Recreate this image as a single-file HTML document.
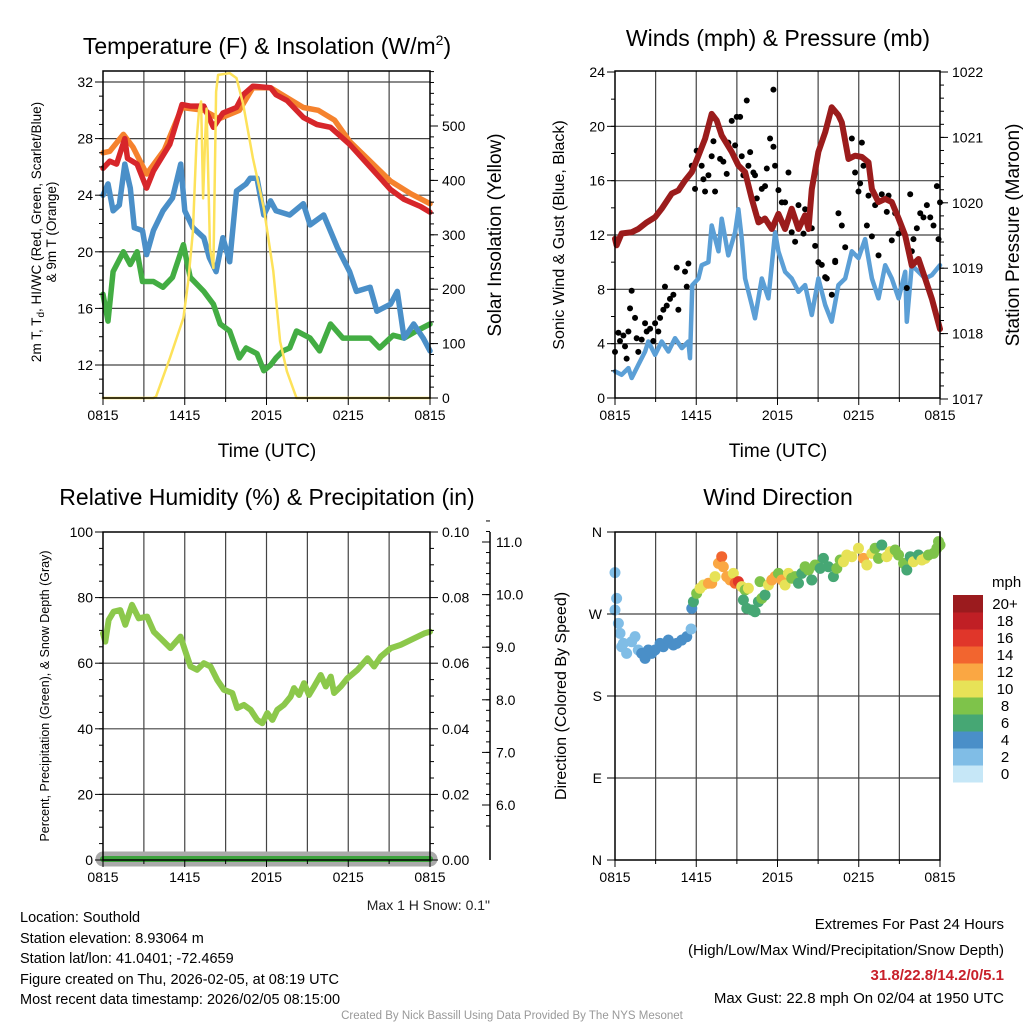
<!DOCTYPE html>
<html><head><meta charset="utf-8">
<style>
html,body{margin:0;padding:0;background:#fff;}
svg{display:block;font-family:"Liberation Sans",Arial,sans-serif;}
</style></head>
<body>
<svg id="c" width="1024" height="1024" viewBox="0 0 1024 1024" xmlns="http://www.w3.org/2000/svg">
<rect width="1024" height="1024" fill="#fff"/>
<text x="267" y="54" font-size="23" text-anchor="middle">Temperature (F) &amp; Insolation (W/m<tspan font-size="14" dy="-9">2</tspan><tspan dy="9">)</tspan></text>
<text x="778" y="46" font-size="23" text-anchor="middle">Winds (mph) &amp; Pressure (mb)</text>
<text x="267" y="505" font-size="23" text-anchor="middle">Relative Humidity (%) &amp; Precipitation (in)</text>
<text x="778" y="505" font-size="23" text-anchor="middle">Wind Direction</text>
<text x="267" y="457" font-size="19" text-anchor="middle">Time (UTC)</text>
<text x="778" y="457" font-size="19" text-anchor="middle">Time (UTC)</text>
<g transform="translate(41,232) rotate(-90)">
<text x="0" y="0" font-size="13.5" text-anchor="middle">2m T, T<tspan font-size="10" dy="3">d</tspan><tspan dy="-3">, HI/WC (Red, Green, Scarlet/Blue)</tspan></text>
<text x="0" y="15" font-size="13.5" text-anchor="middle">&amp; 9m T (Orange)</text>
</g>
<text transform="translate(501,235) rotate(-90)" font-size="19" text-anchor="middle">Solar Insolation (Yellow)</text>
<text transform="translate(564,235) rotate(-90)" font-size="16" text-anchor="middle">Sonic Wind &amp; Gust (Blue, Black)</text>
<text transform="translate(1019,235) rotate(-90)" font-size="19" text-anchor="middle">Station Pressure (Maroon)</text>
<text transform="translate(49,696) rotate(-90)" font-size="12.5" text-anchor="middle">Percent, Precipitation (Green), &amp; Snow Depth (Gray)</text>
<text transform="translate(566,696) rotate(-90)" font-size="16" text-anchor="middle">Direction (Colored By Speed)</text>
<text x="490" y="910" font-size="14" text-anchor="end" fill="#222">Max 1 H Snow: 0.1"</text>
<g font-size="14.5" fill="#000">
<text x="20" y="922">Location: Southold</text>
<text x="20" y="943">Station elevation: 8.93064 m</text>
<text x="20" y="963">Station lat/lon: 41.0401; -72.4659</text>
<text x="20" y="984">Figure created on Thu, 2026-02-05, at 08:19 UTC</text>
<text x="20" y="1004">Most recent data timestamp: 2026/02/05 08:15:00</text>
</g>
<g font-size="15" text-anchor="end">
<text x="1004" y="929">Extremes For Past 24 Hours</text>
<text x="1004" y="955">(High/Low/Max Wind/Precipitation/Snow Depth)</text>
<text x="1004" y="980" fill="#c8202a" font-weight="bold">31.8/22.8/14.2/0/5.1</text>
<text x="1004" y="1003">Max Gust: 22.8 mph On 02/04 at 1950 UTC</text>
</g>
<text x="512" y="1019" font-size="11.5" text-anchor="middle" fill="#999">Created By Nick Bassill Using Data Provided By The NYS Mesonet</text>
<g id="plots"></g>
</svg>
<script>
// ---------- Panel 1 data ----------
const tempHours=[0,0.5,1.0,1.6,1.8,2.5,3.2,3.7,4.9,5.8,6.4,7.4,8.1,8.8,9.8,10.3,11,12.3,12.7,13.5,14.7,15.7,16.7,18.1,19.6,21.1,22.1,23.3,24];
const temp2m=[25.9,26.4,26.2,28.0,26.6,26.2,24.5,25.7,27.6,30.4,30.3,30.3,28.8,29.8,30.2,31.1,31.7,31.6,31.1,30.7,29.5,29.0,28.8,27.6,26.0,24.4,23.7,23.2,22.8];
const temp9mHours=[0,0.5,1.5,2.2,3.2,4.5,5.8,7.4,8.5,10,11,12.3,13.5,14.7,15.8,17,18.1,19.6,21.1,22.6,24];
const temp9m=[27.0,27.1,28.3,27.4,25.5,27.2,30.2,30.0,29.4,30.0,31.6,31.6,30.9,30.2,30.0,29.3,27.8,26.4,25.0,24.1,23.4];
const dewHours=[0,0.37,0.74,1.2,1.6,2.0,2.3,2.9,3.2,3.7,4.4,5.1,5.7,6.0,6.6,7.4,7.8,8.3,8.8,9.3,9.8,10.5,10.8,11.3,11.8,12.3,12.7,13.7,14.7,15.2,16.2,17.2,18.1,18.6,19.6,20.1,21.1,21.6,22.1,22.8,23.5,24];
const dewpoint=[24.0,24.8,22.9,23.3,26.2,24.5,21.7,21.5,19.8,21.5,22.9,23.8,26.2,22.9,21.7,21.0,19.6,18.6,21.0,19.3,24.3,24.8,25.2,25.2,22.6,23.6,22.9,22.6,23.4,21.9,22.6,20.3,18.6,17.2,17.5,15.8,16.3,17.2,13.9,14.9,13.9,13.0];
const chillHours=[0,0.37,0.74,1.5,2.0,2.5,2.9,3.7,4.4,5.1,5.9,6.4,7.4,8.1,8.6,9.3,10.0,10.5,11.3,11.8,12.3,12.7,13.2,13.7,14.2,15.2,15.9,16.7,17.6,18.6,19.6,20.3,21.3,22.1,23.0,24];
const windChill=[17.0,15.1,18.6,20.0,19.1,20.0,17.9,17.9,17.5,18.2,20.5,18.2,17.2,16.3,14.9,14.4,12.5,13.2,12.8,11.6,12.0,12.5,13.0,13.2,14.4,13.9,13.0,14.9,13.9,13.9,13.9,13.2,14.1,13.9,14.4,14.9];
const solarHours=[0,3.7,3.9,4.9,5.9,6.25,6.6,6.86,7.05,7.2,7.35,7.5,7.6,7.85,8.1,8.3,8.45,9.3,9.8,10.3,11.0,11.8,12.5,13.0,13.5,14.2,24];
const solar=[0,0,3,73,147,214,306,471,530,545,367,480,532,275,239,563,594,597,588,539,441,349,233,104,49,0,0];
const tempTicks=[12,16,20,24,28,32];
const solarTicks=[0,100,200,300,400,500];
const timeLabels=["0815","1415","2015","0215","0815"];

// ---------- Panel 2 data ----------
const presHours=[0,0.12,0.49,1.23,1.72,2.34,2.96,3.45,4.19,4.68,5.17,5.67,6.16,6.65,7.14,7.51,7.88,8.62,9.11,9.61,10.1,10.6,11.08,11.58,12.07,12.56,13.05,13.55,14.04,14.29,14.53,15.02,15.52,16.0,16.5,16.75,17.24,17.73,18.23,18.72,18.97,19.46,19.95,20.44,20.94,21.43,21.92,22.41,22.91,23.4,24];
const pressure=[1019.45,1019.35,1019.53,1019.55,1019.6,1019.7,1019.78,1019.91,1020.14,1020.19,1020.34,1020.47,1020.72,1020.98,1021.36,1021.26,1021.03,1020.78,1020.57,1020.47,1020.06,1019.7,1019.76,1019.6,1019.83,1019.6,1019.91,1019.6,1019.81,1019.6,1020.21,1020.78,1021.08,1021.46,1021.34,1021.23,1020.67,1020.72,1020.7,1020.62,1020.21,1020.01,1020.06,1020.01,1019.76,1019.5,1019.04,1019.14,1018.84,1018.53,1018.07];
const windHours=[0,0.49,0.99,1.23,1.72,2.22,2.46,2.96,3.45,3.94,4.43,4.93,5.42,5.54,5.71,6.16,6.4,6.9,7.14,7.64,7.88,8.37,8.87,9.11,9.36,9.61,10.1,10.34,10.84,11.33,11.82,12.07,12.56,13.05,13.55,14.04,14.53,15.02,15.52,16.0,16.5,17.0,17.49,17.98,18.47,18.97,19.46,19.95,20.44,20.94,21.43,21.55,21.92,22.41,22.91,23.4,24];
const windSpeed=[1.96,1.71,2.2,1.47,2.44,3.42,4.16,3.18,4.16,3.42,4.4,3.67,4.16,2.93,8.31,8.8,9.78,10.0,12.7,10.8,13.2,10.5,12.2,13.9,11.7,8.8,6.85,5.87,8.8,7.33,12.2,10.8,9.29,8.8,7.82,8.31,6.11,8.8,6.85,5.62,8.31,8.8,10.8,10.3,11.7,8.8,7.33,9.78,8.8,7.33,9.29,5.62,9.78,9.29,8.8,9.05,9.78];
const gustHours=[0,0.25,0.37,0.62,0.74,0.86,0.99,1.11,1.23,1.48,1.6,1.72,1.97,2.22,2.34,2.59,2.83,2.96,3.2,3.33,3.57,3.69,3.82,4.06,4.31,4.56,4.68,5.17,5.3,5.42,5.67,5.91,6.03,6.4,6.53,6.65,6.9,7.14,7.27,7.39,7.76,8.0,8.25,8.37,8.62,8.87,8.99,9.24,9.36,9.48,9.73,9.85,9.98,10.22,10.34,10.47,10.59,10.84,11.08,11.21,11.45,11.7,11.82,12.07,12.32,12.56,12.81,13.05,13.3,13.55,13.92,14.04,14.53,14.78,15.02,15.27,15.52,15.64,16.01,16.26,16.5,16.75,17.0,17.49,17.73,17.98,18.1,18.23,18.35,18.6,18.72,18.97,19.21,19.46,19.7,20.07,20.2,20.44,20.69,20.94,21.18,21.55,21.8,22.04,22.29,22.54,22.78,23.03,23.28,23.52,23.77,23.89,24.0,11.7,16.26,21.92];
const gustSpeed=[3.4,4.8,4.2,4.6,3.8,2.9,4.9,6.6,7.9,5.9,4.4,3.4,4.3,5.5,4.9,5.1,4.2,5.5,4.9,5.9,6.5,8.2,6.8,7.3,7.6,9.6,6.5,9.3,8.2,9.9,17.1,15.4,18.2,17.1,16.1,15.2,16.4,17.8,18.9,15.2,17.6,17.4,16.5,18.8,20.4,18.6,20.7,20.7,17.8,16.4,21.9,17.1,18.1,16.6,16.4,14.7,13.2,15.4,15.6,16.9,19.1,18.5,17.1,15.3,14.4,14.4,16.6,12.2,11.5,14.2,12.1,13.9,12.5,11.2,10.0,9.8,8.9,8.8,7.6,10.1,13.6,12.7,11.1,19.1,16.6,15.2,15.8,18.8,17.1,12.7,14.9,11.9,14.2,10.5,15.0,13.7,14.9,11.6,13.6,12.1,12.5,8.1,15.0,11.7,12.5,13.6,13.3,14.2,13.3,12.7,15.6,11.7,14.4,22.7,10.0,10.8];
const windTicks=[0,4,8,12,16,20,24];
const presTicks=[1017,1018,1019,1020,1021,1022];

// ---------- Panel 3 data ----------
const rhHours=[0,0.17,0.42,0.78,1.27,1.64,2.13,2.62,3.24,3.73,4.22,4.95,5.69,6.05,6.42,6.91,7.4,7.89,8.38,8.87,9.49,9.85,10.34,10.83,11.32,11.69,12.06,12.43,12.79,13.28,13.77,14.02,14.39,14.75,15.12,15.49,15.98,16.35,16.72,16.96,17.45,17.94,18.68,19.41,19.9,20.39,21.13,21.86,22.84,23.58,24];
const humidity=[69.1,66.6,73.2,75.7,76.2,71.7,77.8,73.7,74.2,69.6,67.6,64.6,68.1,63.6,59.0,58.0,60.0,59.0,54.9,51.9,50.9,46.3,47.3,45.8,42.7,41.7,44.8,42.7,45.8,47.3,49.8,52.4,50.3,53.9,50.3,52.9,56.4,52.9,55.9,50.9,52.9,55.4,58.0,61.5,59.0,62.0,64.6,65.6,67.6,69.1,69.6];
const precipHours=[0,24];
const precip=[0,0];
const snowHours=[0,24];
const snowDepth=[0,0];
const rhTicks=[0,20,40,60,80,100];
const precipTicks=["0.00","0.02","0.04","0.06","0.08","0.10"];
const snowTicks=["6.0","7.0","8.0","9.0","10.0","11.0"];

// ---------- Panel 4 data ----------
const dirHours=[0,0.12,0,0.25,0.37,0.62,0.49,0.86,1.23,1.48,1.72,1.97,2.22,2.46,2.71,2.96,3.33,3.57,3.94,4.31,4.56,4.93,5.3,5.62,5.67,5.79,6.03,6.28,6.53,6.9,7.14,7.39,7.64,7.88,8.0,8.25,8.5,8.74,8.87,9.11,9.36,9.61,9.85,9.48,9.73,10.1,10.34,10.59,10.84,11.08,10.71,11.33,11.58,11.82,12.07,12.32,12.56,12.81,13.05,13.3,13.55,13.79,14.04,14.29,14.53,14.78,15.15,15.39,15.76,16.13,16.38,16.63,16.87,17.12,17.49,17.98,18.35,18.6,18.97,19.21,19.46,19.7,20.07,20.32,20.69,20.94,21.31,21.55,21.8,22.04,22.41,22.66,22.91,23.15,23.52,23.77,23.89,24.0];
const direction=[315.4,287.2,274.4,259.7,248.8,237.8,234.1,226.8,239.6,245.1,230.5,226.8,221.3,230.5,226.8,230.5,237.8,234.1,241.4,236.0,237.8,241.4,245.1,253.5,276.2,283.5,292.7,298.2,301.8,303.7,303.7,311.0,325.6,332.9,321.9,311.0,307.3,314.6,303.7,305.5,300.0,296.3,298.2,285.4,276.2,274.4,272.5,283.5,287.2,290.8,305.5,301.8,307.3,311.0,314.6,307.3,301.8,314.6,309.2,311.0,303.7,314.6,321.9,318.3,307.3,323.8,320.1,331.1,321.9,311.0,320.1,329.3,327.4,334.8,332.9,342.1,331.1,323.8,336.6,342.1,331.1,345.7,332.9,338.4,340.2,334.8,325.6,318.3,332.9,327.4,334.8,329.3,331.1,334.8,336.6,342.1,349.4,345.7];
const dirSpeed=[2,2,2,2,2,2,2,2,2,2,2,4,4,4,4,4,4,4,4,4,4,4,4,2,4,6,8,10,10,12,12,10,12,14,12,12,12,10,14,16,10,8,10,6,6,6,6,6,8,6,8,10,12,12,8,12,10,10,8,8,6,6,8,8,6,8,6,6,6,6,8,8,10,10,10,10,12,10,10,8,8,6,10,10,8,8,8,6,6,10,6,10,10,8,8,8,8,8];
const dirLabels=["N","E","S","W","N"];
const legendLabels=["0","2","4","6","8","10","12","14","16","18","20+"];
const legendColors=["#c6e7f7","#80bde6","#4a8fc8","#46a774","#7ec34a","#e7e257","#faa743","#f2652f","#e0362a","#c01f25","#9b1b1e"];

// ---------- drawing ----------
const NS="http://www.w3.org/2000/svg";
const root=document.getElementById('plots');
function mk(tag,attrs,parent){const e=document.createElementNS(NS,tag);for(const k in attrs)e.setAttribute(k,attrs[k]);(parent||root).appendChild(e);return e;}
function lin(d0,d1,p0,p1){return v=>p0+(v-d0)*(p1-p0)/(d1-d0);}
function polyline(xs,ys,fx,fy,color,w,name){
  const pts=xs.map((h,i)=>fx(h).toFixed(1)+","+fy(ys[i]).toFixed(1)).join(" ");
  const p=mk('polyline',{points:pts,fill:'none',stroke:color,'stroke-width':w,'stroke-linejoin':'round','stroke-linecap':'round'});
  
  
  return p;
}
function grid(L,R,T,B,hy,name){
  const g=mk('g',{});
  
  
  for(let i=1;i<8;i++){const x=L+(R-L)*i/8;mk('line',{x1:x,x2:x,y1:T,y2:B,stroke:'#444','stroke-width':1.2},g);}
  hy.forEach(y=>mk('line',{x1:L,x2:R,y1:y,y2:y,stroke:'#444','stroke-width':1.2},g));
  return g;
}
function frame(L,R,T,B,name){
  const r=mk('rect',{x:L,y:T,width:R-L,height:B-T,fill:'none',stroke:'#000','stroke-width':1.5});
  
  
}
function xTicks(L,R,B,name){
  const g=mk('g',{'font-size':14,'text-anchor':'middle'});
  
  
  for(let i=0;i<=8;i++){const x=L+(R-L)*i/8;mk('line',{x1:x,x2:x,y1:B,y2:B+(i%2?4:7),stroke:'#000'},g);}
  timeLabels.forEach((t,i)=>{const tx=mk('text',{x:L+(R-L)*i/4,y:B+22},g);tx.textContent=t;});
}
function yTicksLeft(L,fy,ticks,minorStep,lo,hi,name,fmt){
  const g=mk('g',{'font-size':14,'text-anchor':'end'});
  
  
  for(let v=lo;v<=hi+1e-9;v+=minorStep){mk('line',{x1:L-4,x2:L,y1:fy(v),y2:fy(v),stroke:'#000'},g);}
  ticks.forEach(v=>{mk('line',{x1:L-8,x2:L,y1:fy(v),y2:fy(v),stroke:'#000'},g);const t=mk('text',{x:L-10,y:fy(v)+5},g);t.textContent=fmt?fmt(v):v;});
}
function yTicksRight(R,fy,ticks,minorStep,lo,hi,name){
  const g=mk('g',{'font-size':14,'text-anchor':'start'});
  
  
  for(let v=lo;v<=hi+1e-9;v+=minorStep){mk('line',{x1:R,x2:R+4,y1:fy(v),y2:fy(v),stroke:'#000'},g);}
  ticks.forEach(v=>{mk('line',{x1:R,x2:R+8,y1:fy(v),y2:fy(v),stroke:'#000'},g);const t=mk('text',{x:R+12,y:fy(v)+5},g);t.textContent=v;});
}

// Panel 1
(function(){
  const L=103,R=430,T=71,B=398;
  const fx=lin(0,24,L,R), fy=lin(32,12,82,365), fs=lin(0,500,398,126);
  grid(L,R,T,B,tempTicks.map(fy),'temp-grid');
  polyline(chillHours,windChill,fx,fy,'#43ad43',5.5,'windchill-line');
  polyline(dewHours,dewpoint,fx,fy,'#4a8fc8',5.5,'dewpoint-line');
  polyline(temp9mHours,temp9m,fx,fy,'#f5822d',5.5,'temp-9m-line');
  polyline(tempHours,temp2m,fx,fy,'#d7262a',5.5,'temp-2m-line');
  polyline(solarHours,solar,fx,fs,'#fde25a',2.5,'insolation-line');
  frame(L,R,T,B,'temp-frame');
  xTicks(L,R,B,'temp-x-ticks');
  yTicksLeft(L,fy,tempTicks,1,10,32,'temp-y-ticks');
  yTicksRight(R,fs,solarTicks,20,0,600,'insolation-y-ticks');
})();

// Panel 2
(function(){
  const L=615,R=940,T=71,B=398;
  const fx=lin(0,24,L,R), fy=lin(0,24,B,72), fp=lin(1017,1022,399,72);
  grid(L,R,T,B,windTicks.slice(1,6).map(fy),'winds-grid');
  polyline(windHours,windSpeed,fx,fy,'#5b9fd6',4.5,'wind-speed-line');
  const g=mk('g',{fill:'#000'});
  
  
  gustHours.forEach((h,i)=>{const c=mk('circle',{cx:fx(h),cy:fy(gustSpeed[i]),r:3},g);
  });
  polyline(presHours,pressure,fx,fp,'#9b1c1c',6,'pressure-line');
  frame(L,R,T,B,'winds-frame');
  xTicks(L,R,B,'winds-x-ticks');
  yTicksLeft(L,fy,windTicks,2,0,24,'wind-y-ticks');
  yTicksRight(R,fp,presTicks,0.2,1017,1022,'pressure-y-ticks');
})();

// Panel 3
(function(){
  const L=103,R=430,T=532,B=860;
  const fx=lin(0,24,L,R), fy=lin(0,100,B,T), fpr=lin(0,0.1,B,T), fsn=lin(6,11,805,542);
  grid(L,R,T,B,[20,40,60,80].map(fy),'humidity-grid');
  polyline(snowHours,snowDepth,fx,v=>fy(v)-1,'#aaaaaa',15,'snow-depth-line');
  polyline(precipHours,precip,fx,v=>fpr(v)-1,'#3da33d',6,'precip-line');
  polyline(rhHours,humidity,fx,fy,'#8cc84b',6,'humidity-line');
  frame(L,R,T,B,'humidity-frame');
  xTicks(L,R,B,'humidity-x-ticks');
  yTicksLeft(L,fy,rhTicks,5,0,100,'humidity-y-ticks');
  const g=mk('g',{'font-size':14});
  
  
  for(let i=0;i<=20;i++){const y=fpr(i*0.005);mk('line',{x1:R,x2:R+(i%4?4:8),y1:y,y2:y,stroke:'#000'},g);}
  precipTicks.forEach(v=>{const t=mk('text',{x:R+12,y:fpr(+v)+5},g);t.textContent=v;});
  const s=mk('g',{'font-size':14});
  
  
  mk('line',{x1:490,x2:490,y1:532,y2:860,stroke:'#000','stroke-width':1.5},s);
  for(let v=5.6;v<=11.4;v+=0.2){mk('line',{x1:486,x2:490,y1:fsn(v),y2:fsn(v),stroke:'#000'},s);}
  snowTicks.forEach(v=>{mk('line',{x1:482,x2:490,y1:fsn(+v),y2:fsn(+v),stroke:'#000'},s);const t=mk('text',{x:496,y:fsn(+v)+5},s);t.textContent=v;});
})();

// Panel 4
(function(){
  const L=615,R=940,T=532,B=860;
  const fx=lin(0,24,L,R), fy=lin(0,360,B,T);
  grid(L,R,T,B,[90,180,270].map(fy),'direction-grid');
  const g=mk('g',{});
  
  
  dirHours.forEach((h,i)=>{
    const idx=Math.min(10,Math.max(0,Math.round(dirSpeed[i]/2)));
    const c=mk('circle',{cx:fx(h),cy:fy(direction[i]),r:5.5,fill:legendColors[idx]},g);
    
    
  });
  frame(L,R,T,B,'direction-frame');
  xTicks(L,R,B,'direction-x-ticks');
  const yl=mk('g',{'font-size':14,'text-anchor':'end'});
  
  
  dirLabels.forEach((d,i)=>{const y=fy(i*90);mk('line',{x1:L-8,x2:L,y1:y,y2:y,stroke:'#000'},yl);const t=mk('text',{x:L-13,y:y+5},yl);t.textContent=d;});
  const lg=mk('g',{'font-size':15});
  
  
  const mt=mk('text',{x:992,y:587},lg);mt.textContent='mph';
  legendLabels.forEach((lab,i)=>{
    const y=595+(10-i)*17;
    mk('rect',{x:953,y:y,width:30,height:17.5,fill:legendColors[i]},lg);
    const t=mk('text',{x:1005,y:y+14,'text-anchor':'middle'},lg);t.textContent=lab;
  });
})();
</script>
</body></html>
